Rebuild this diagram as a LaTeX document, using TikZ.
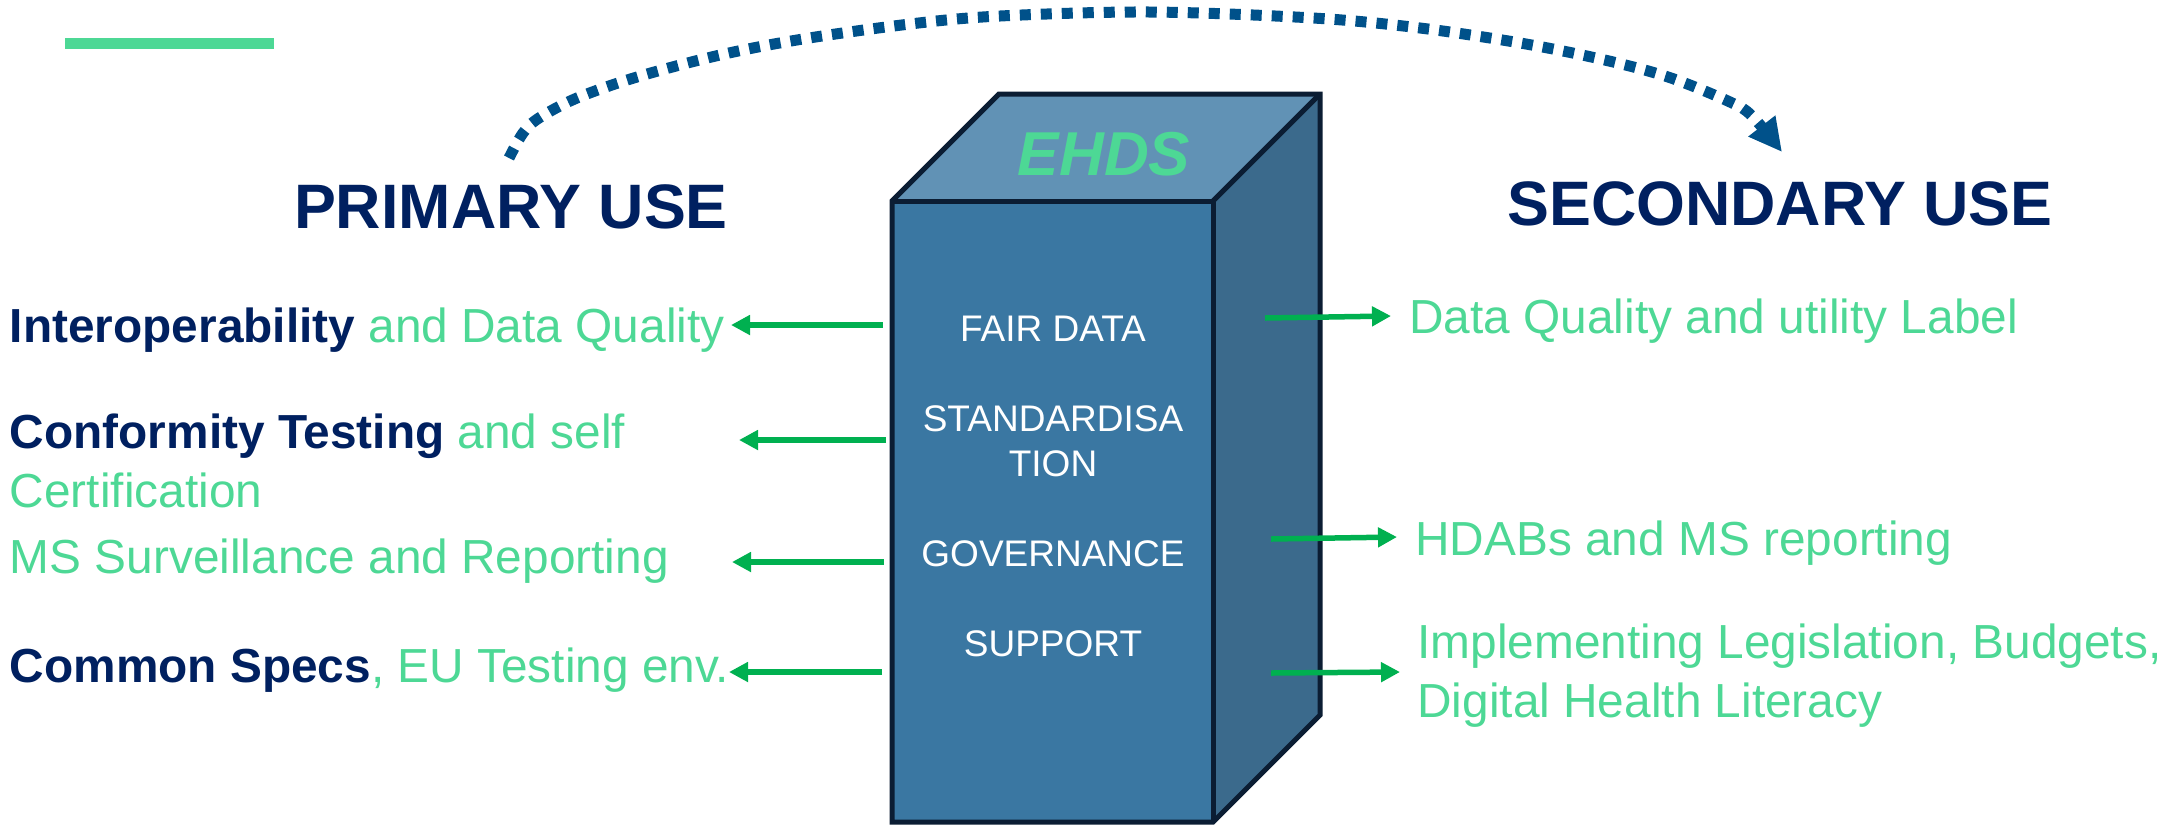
\documentclass[tikz,border=0pt]{standalone}
\usepackage{fontspec}
\setmainfont{Liberation Sans}
\usetikzlibrary{arrows.meta}
\definecolor{ehgreen}{HTML}{4DD895}
\definecolor{arrowgreen}{HTML}{00B050}
\definecolor{navy}{HTML}{002060}
\definecolor{frontblue}{HTML}{3A77A2}
\definecolor{topblue}{HTML}{6192B5}
\definecolor{sideblue}{HTML}{3B6A8C}
\definecolor{edgecol}{HTML}{0B1D33}
\definecolor{arcblue}{HTML}{00518A}
\newcommand{\navybf}[1]{\textcolor{navy}{\bfseries #1}}
\begin{document}
\begin{tikzpicture}[x=0.5pt,y=-0.5pt,
  bodytext/.style={inner sep=0pt, anchor=base west, align=left, text=ehgreen,
    font=\fontsize{23.9}{29.3}\selectfont},
  heading/.style={inner sep=0pt, anchor=base, text=navy,
    font=\fontsize{31.4}{36}\selectfont\bfseries},
  boxtext/.style={inner sep=0pt, anchor=base, align=center, text=white,
    font=\fontsize{18.5}{22.5}\selectfont},
  face/.style={draw=edgecol, line width=2.5pt, line join=miter},
  link/.style={draw=arrowgreen, line width=2.75pt, -{Triangle[length=9.5pt,width=9.5pt]}},
  flow/.style={draw=arcblue, line width=5.5pt, dash pattern=on 5.5pt off 5pt,
    -{Triangle[length=16.5pt,width=16pt]}}
]
\useasboundingbox (0,0) rectangle (2182,826);

% accent bar
\fill[ehgreen] (65,38) rectangle (274,49);

% box corners
\coordinate (ftl) at (892,201);
\coordinate (ftr) at (1213,201);
\coordinate (fbl) at (892,822);
\coordinate (fbr) at (1213,822);
\coordinate (btl) at (999,94);
\coordinate (btr) at (1320,94);
\coordinate (bbr) at (1320,715);

\fill[frontblue] (ftl) -- (ftr) -- (fbr) -- (fbl) -- cycle;
\fill[topblue] (ftl) -- (btl) -- (btr) -- (ftr) -- cycle;
\fill[sideblue] (ftr) -- (btr) -- (bbr) -- (fbr) -- cycle;
\draw[face] (fbl) -- (ftl) -- (btl) -- (btr) -- (bbr) -- (fbr) -- cycle;
\draw[face] (ftl) -- (ftr) -- (fbr);
\draw[face] (ftr) -- (btr);

\node[inner sep=0pt, anchor=base, text=ehgreen,
  font=\fontsize{31}{36}\selectfont\bfseries\itshape] (ehds) at (1104,175) {EHDS};

% box labels (multi-line nodes: base = last line)
\node[boxtext] (fair) at (1053,341) {FAIR DATA};
\node[boxtext] (std) at (1053,476) {STANDARDISA\\TION};
\node[boxtext] (gov) at (1053,566) {GOVERNANCE};
\node[boxtext] (sup) at (1053,656) {SUPPORT};

% headings
\node[heading] (primary) at (511,228) {PRIMARY USE};
\node[heading] (secondary) at (1780,225) {SECONDARY USE};

% left texts
\node[bodytext] (interop) at (9.5,342) {\navybf{Interoperability} and Data Quality};
\node[bodytext] (conform) at (9.5,507) {\navybf{Conformity Testing} and self\\Certification};
\node[bodytext] (surv) at (9.5,573) {MS Surveillance and Reporting};
\node[bodytext] (specs) at (9.5,682) {\navybf{Common Specs}, EU Testing env.};

% right texts
\node[bodytext] (label) at (1409,333) {Data Quality and utility Label};
\node[bodytext] (hdab) at (1415,555) {HDABs and MS reporting};
\node[bodytext] (impl) at (1417,717) {Implementing Legislation, Budgets,\\Digital Health Literacy};

% arrow end points
\coordinate (l1a) at (883,325); \coordinate (l1b) at (731,325);
\coordinate (l2a) at (886,440); \coordinate (l2b) at (739,440);
\coordinate (l3a) at (884,562); \coordinate (l3b) at (732,562);
\coordinate (l4a) at (882,672); \coordinate (l4b) at (729,672);
\coordinate (r1a) at (1265,318); \coordinate (r1b) at (1391,316);
\coordinate (r2a) at (1271,539); \coordinate (r2b) at (1397,537);
\coordinate (r3a) at (1271,673); \coordinate (r3b) at (1400,672);

\draw[link] (l1a) -- (l1b);
\draw[link] (l2a) -- (l2b);
\draw[link] (l3a) -- (l3b);
\draw[link] (l4a) -- (l4b);
\draw[link] (r1a) -- (r1b);
\draw[link] (r2a) -- (r2b);
\draw[link] (r3a) -- (r3b);

% dotted arc from primary to secondary
\coordinate (arcstart) at (509,158);
\coordinate (arcend) at (1782,152);
\draw[flow] plot[smooth, tension=0.55] coordinates {(arcstart) (523,133) (539,118) (577,98) (637,77) (720,55) (803,39) (910,24) (1000,16) (1150,12) (1313,18) (1420,28) (1526,44) (1609,61) (1671,78) (1730,102) (1752,116) (arcend)};
\end{tikzpicture}
\end{document}
